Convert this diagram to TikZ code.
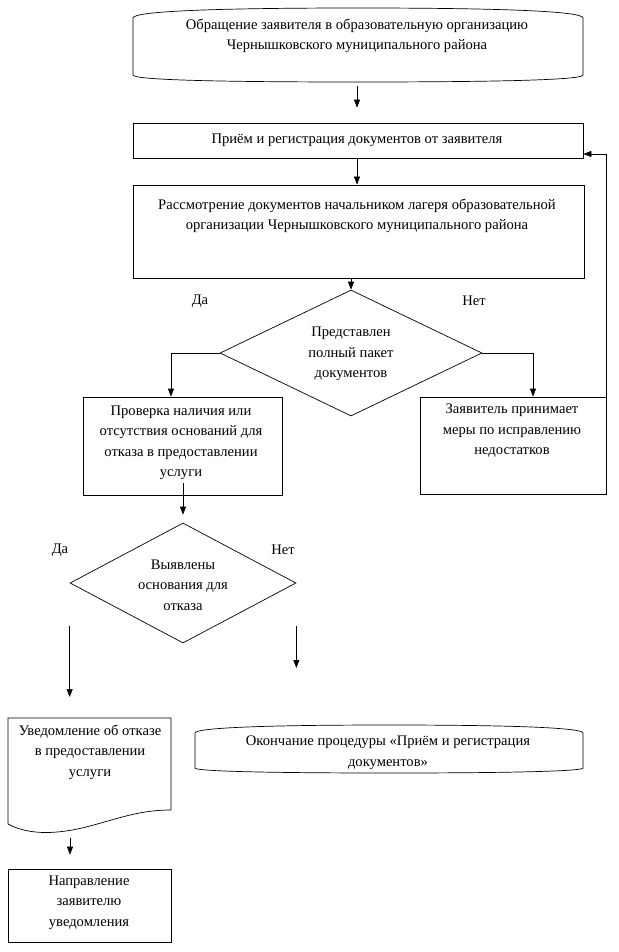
\documentclass[tikz,border=0pt]{standalone}
\usepackage{fontspec}
\setmainfont{Liberation Serif}
\usetikzlibrary{arrows.meta,shapes.geometric}
\begin{document}
\begin{tikzpicture}[x=1pt,y=-1pt,
  ln/.style={line width=0.7pt},
  arr/.style={line width=0.7pt,-{Triangle[width=6pt,length=8pt]}},
  box/.style={draw,rectangle,line width=0.7pt,inner sep=0pt},
  ghost/.style={rectangle,inner sep=0pt},
  diam/.style={draw,diamond,line width=0.7pt,inner sep=0pt},
  txt/.style={align=center,font=\fontsize{14.6}{20.5}\selectfont,inner sep=0pt}]
\useasboundingbox[fill=white] (0,0) rectangle (618,952);

% top terminator
\node[ghost,minimum width=450,minimum height=74] (t1) at (358,45) {};
\draw[ln] (133,75) -- (133,18) .. controls (133,11) and (220,8) .. (358,8)
  .. controls (496,8) and (583,11) .. (583,18) -- (583,75)
  .. controls (583,80) and (496,82) .. (358,82)
  .. controls (220,82) and (133,80) .. cycle;
\node[txt] (t1t) at (357,36) {Обращение заявителя в образовательную организацию\\Чернышковского муниципального района};

% box 2
\node[box,minimum width=450,minimum height=35] (b2) at (358,140.5) {};
\node[txt] (b2t) at (357,140) {Приём и регистрация документов от заявителя};

% box 3
\node[box,minimum width=451,minimum height=93] (b3) at (358.5,231.5) {};
\node[txt] (b3t) at (357,216) {Рассмотрение документов начальником лагеря образовательной\\организации Чернышковского муниципального района};

% diamond 1
\node[diam,minimum width=262,minimum height=126] (d1) at (351,353) {};
\node[txt] (d1t) at (351,354) {Представлен\\полный пакет\\документов};
\node[txt] (da1) at (200,301) {Да};
\node[txt] (net1) at (474,301) {Нет};

% box 4
\node[box,minimum width=199,minimum height=98] (b4) at (182.5,446) {};
\node[txt] (b4t) at (181,443) {Проверка наличия или\\отсутствия оснований для\\отказа в предоставлении\\услуги};

% box 5
\node[box,minimum width=186,minimum height=97] (b5) at (513,445.5) {};
\node[txt] (b5t) at (512,431) {Заявитель принимает\\меры по исправлению\\недостатков};

% diamond 2
\node[diam,minimum width=226,minimum height=120] (d2) at (183,583) {};
\node[txt] (d2t) at (183,585) {Выявлены\\основания для\\отказа};
\node[txt] (da2) at (60,550) {Да};
\node[txt] (net2) at (283,550) {Нет};

% document shape
\node[ghost,minimum width=163,minimum height=115] (b6) at (89.5,775.5) {};
\draw[ln] (8,824) -- (8,718) -- (171,718) -- (171,810)
  .. controls (140,810) and (120,818) .. (90,826)
  .. controls (60,834) and (30,836) .. (8,824);
\node[txt] (b6t) at (90,752) {Уведомление об отказе\\в предоставлении\\услуги};

% box 7
\node[box,minimum width=163,minimum height=73] (b7) at (89.5,905.5) {};
\node[txt] (b7t) at (89,902.5) {Направление\\заявителю\\уведомления};

% end terminator
\node[ghost,minimum width=388,minimum height=48] (t2) at (389,749) {};
\draw[ln] (195,768) -- (195,733) .. controls (195,728) and (260,725) .. (389,725)
  .. controls (518,725) and (583,728) .. (583,733) -- (583,768)
  .. controls (583,771) and (518,773) .. (389,773)
  .. controls (260,773) and (195,771) .. cycle;
\node[txt] (t2t) at (388,752.5) {Окончание процедуры «Приём и регистрация\\документов»};

% connectors
\draw[arr,shorten <=4pt,shorten >=15pt] (t1.south -| 357,0) -- (b2.north -| 357,0);
\draw[arr] (b2.south -| 357,0) -- (b3.north -| 357,0);
\draw[arr] (b3.south -| d1.north) -- (d1.north);
\draw[arr] (d1.west) -| ([xshift=-11.5pt]b4.north);
\draw[arr] (d1.east) -| ([xshift=20pt]b5.north);
\draw[arr] (b5.north east) -- (b5.north east |- 0,154) -- (b2.east |- 0,154);
\draw[arr] ([yshift=12pt]b4.south -| d2.north) -- ([yshift=8pt]d2.north);
\draw[arr] (d2.west |- 0,626) -- (d2.west |- 0,697);
\draw[arr] (d2.east |- 0,626) -- (d2.east |- 0,668);
\draw[arr] (b7.north -| 70,0) ++(0,-31) -- ([yshift=14pt]b7.north -| 70,0);
\end{tikzpicture}
\end{document}
